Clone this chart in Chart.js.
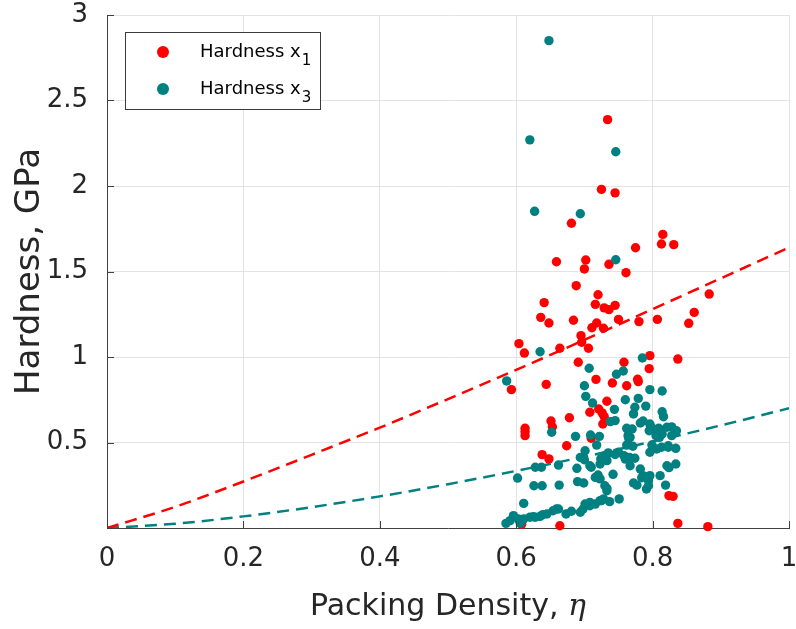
<!DOCTYPE html>
<html>
<head>
<meta charset="utf-8">
<script src="https://cdn.jsdelivr.net/npm/chart.js@4.4.1/dist/chart.umd.min.js"></script>
<style>
  html, body { margin: 0; padding: 0; background: #fff; }
  #wrap { width: 796px; height: 629px; }
</style>
</head>
<body>
<div id="wrap"><canvas id="hardnessChart" width="796" height="629"></canvas></div>
<script>
// Hardness x1 samples (packing density, GPa)
const x1Density = [0.734,0.725,0.745,0.681,0.815,0.813,0.831,0.775,0.659,0.702,0.700,0.736,0.761,0.688,0.883,0.720,0.641,0.716,0.729,0.736,0.745,0.636,0.648,0.684,0.750,0.780,0.807,0.861,0.853,0.711,0.718,0.728,0.695,0.696,0.706,0.604,0.612,0.664,0.796,0.837,0.795,0.758,0.691,0.717,0.741,0.762,0.778,0.779,0.593,0.644,0.733,0.708,0.721,0.726,0.729,0.727,0.678,0.651,0.653,0.613,0.613,0.613,0.710,0.674,0.638,0.648,0.824,0.830,0.608,0.664,0.837,0.881];
const x1Hardness = [2.388,1.98,1.96,1.782,1.717,1.661,1.657,1.639,1.557,1.567,1.515,1.542,1.493,1.417,1.368,1.364,1.318,1.308,1.287,1.277,1.302,1.232,1.199,1.215,1.220,1.207,1.220,1.261,1.197,1.171,1.199,1.168,1.125,1.086,1.051,1.078,1.023,1.051,1.008,0.988,0.932,0.969,0.969,0.869,0.848,0.832,0.870,0.856,0.809,0.840,0.741,0.677,0.696,0.673,0.651,0.608,0.645,0.626,0.591,0.583,0.563,0.540,0.525,0.481,0.429,0.404,0.189,0.185,0.022,0.013,0.027,0.008];

// Hardness x3 samples
const x3Density = [0.648,0.620,0.746,0.627,0.694,0.746,0.635,0.785,0.757,0.747,
  0.707,0.586,0.700,0.702,0.796,0.814,0.760,0.779,0.712,0.790,
  0.774,0.744,0.814,0.816,0.745,0.738,0.652,0.782,0.786,0.762,
  0.797,0.795,0.809,0.814,0.828,0.835,0.828,0.805,0.810,0.764,
  0.765,0.687,0.709,0.722,0.718,0.762,0.771,0.799,0.806,0.823,
  0.834,0.796,0.701,0.694,0.700,0.735,0.730,0.724,0.733,0.750,
  0.758,0.766,0.774,0.662,0.628,0.637,0.689,0.708,0.710,0.602,
  0.720,0.723,0.742,0.782,0.786,0.796,0.794,0.811,0.821,0.834,
  0.824,0.626,0.638,0.663,0.690,0.699,0.730,0.733,0.772,0.777,
  0.791,0.794,0.819,0.611,0.728,0.737,0.751,0.694,0.701,0.708,
  0.716,0.698,0.708,0.725,0.585,0.591,0.596,0.606,0.611,0.620,
  0.628,0.635,0.645,0.654,0.662,0.673,0.606,0.681,0.659,0.603,
  0.625,0.639,0.770,0.801,0.821,0.767,0.813,0.823,
  0.745,0.760,0.723,0.767,0.784,0.733,0.723,0.772,0.796,0.716];
const x3Hardness = [2.85,2.27,2.20,1.852,1.838,1.569,1.031,0.994,0.918,0.899,
  0.934,0.860,0.832,0.770,0.809,0.801,0.750,0.758,0.731,0.713,
  0.706,0.694,0.680,0.651,0.628,0.622,0.560,0.614,0.626,0.583,
  0.595,0.569,0.583,0.550,0.591,0.569,0.540,0.540,0.530,0.540,
  0.525,0.536,0.544,0.536,0.485,0.485,0.478,0.485,0.462,0.472,
  0.466,0.443,0.452,0.413,0.399,0.439,0.423,0.404,0.394,0.443,
  0.423,0.413,0.408,0.368,0.355,0.355,0.349,0.364,0.355,0.292,
  0.310,0.287,0.314,0.345,0.306,0.306,0.277,0.306,0.364,0.374,
  0.353,0.247,0.247,0.251,0.271,0.263,0.247,0.232,0.263,0.251,
  0.228,0.247,0.251,0.144,0.170,0.154,0.170,0.092,0.140,0.150,
  0.140,0.111,0.130,0.160,0.027,0.043,0.072,0.037,0.053,0.063,
  0.063,0.068,0.082,0.101,0.111,0.082,0.027,0.098,0.111,0.053,
  0.066,0.078,0.579,0.579,0.589,0.530,0.472,0.481,
  0.430,0.403,0.374,0.364,0.294,0.218,0.160,0.667,0.608,0.296];

// fitted trend curves, sampled along the density axis
const fitDensity = [0, 0.1, 0.2, 0.3, 0.4, 0.5, 0.6, 0.7, 0.8, 0.9, 1];
const fitX1 = [0, 0.124, 0.272, 0.428, 0.587, 0.754, 0.925, 1.10, 1.28, 1.46, 1.64];
const fitX3 = [0, 0.025, 0.068, 0.122, 0.185, 0.256, 0.334, 0.417, 0.506, 0.600, 0.70];

const xTicks = [0, 0.2, 0.4, 0.6, 0.8, 1];
const xTickLabels = ['0', '0.2', '0.4', '0.6', '0.8', '1'];
const yTicks = [0, 0.5, 1, 1.5, 2, 2.5, 3];
const yTickLabels = ['', '0.5', '1', '1.5', '2', '2.5', '3'];

const RED = '#ff0000';
const TEAL = '#008080';
const AXIS = '#404040';
const TEXT = '#262626';

const toPoints = (xs, ys) => xs.map((v, i) => ({ x: v, y: ys[i] }));

// inward tick marks, legend box and the x-axis label with an italic eta
const axisDecor = {
  id: 'axisDecor',
  afterDatasetsDraw(chart) {
    const { ctx, chartArea: a, scales: { x, y } } = chart;
    ctx.save();
    ctx.strokeStyle = AXIS;
    ctx.lineWidth = 1;
    ctx.beginPath();
    xTicks.forEach(v => {
      const px = Math.round(x.getPixelForValue(v)) + 0.5;
      ctx.moveTo(px, a.bottom);
      ctx.lineTo(px, a.bottom - 7);
    });
    yTicks.forEach(v => {
      const py = Math.round(y.getPixelForValue(v)) + 0.5;
      ctx.moveTo(a.left, py);
      ctx.lineTo(a.left + 7, py);
    });
    ctx.stroke();

    // legend
    ctx.fillStyle = '#fff';
    ctx.fillRect(125.5, 32.5, 195, 77);
    ctx.strokeStyle = '#3a3a3a';
    ctx.strokeRect(125.5, 32.5, 195, 77);
    const rows = [
      { color: RED, sub: '1', cy: 52 },
      { color: TEAL, sub: '3', cy: 89 }
    ];
    rows.forEach(r => {
      ctx.fillStyle = r.color;
      ctx.beginPath();
      ctx.arc(163, r.cy, 6, 0, Math.PI * 2);
      ctx.fill();
      ctx.fillStyle = '#000';
      ctx.textAlign = 'left';
      ctx.textBaseline = 'alphabetic';
      ctx.font = '18px "DejaVu Sans"';
      const label = 'Hardness x';
      ctx.fillText(label, 200, r.cy + 5);
      const w = ctx.measureText(label).width;
      ctx.font = '15px "DejaVu Sans"';
      ctx.fillText(r.sub, 200 + w + 1, r.cy + 13);
    });

    // x axis title
    const main = 'Packing Density, ';
    ctx.font = '30px "DejaVu Sans"';
    const w1 = ctx.measureText(main).width;
    ctx.font = 'italic 30px "DejaVu Serif"';
    const w2 = ctx.measureText('η').width;
    const cx = (a.left + a.right) / 2;
    const startX = cx - (w1 + w2) / 2;
    ctx.fillStyle = TEXT;
    ctx.textBaseline = 'alphabetic';
    ctx.font = '30px "DejaVu Sans"';
    ctx.fillText(main, startX, 615);
    ctx.font = 'italic 30px "DejaVu Serif"';
    ctx.fillText('η', startX + w1, 615);
    ctx.restore();
  }
};

const ctx = document.getElementById('hardnessChart').getContext('2d');
const chart = new Chart(ctx, {
  type: 'scatter',
  data: {
    datasets: [
      {
        label: 'Hardness x1 fit',
        type: 'line',
        data: toPoints(fitDensity, fitX1),
        borderColor: RED,
        borderWidth: 2.5,
        borderDash: [12, 7],
        pointRadius: 0,
        cubicInterpolationMode: 'monotone',
        fill: false,
        order: 0
      },
      {
        label: 'Hardness x3 fit',
        type: 'line',
        data: toPoints(fitDensity, fitX3),
        borderColor: TEAL,
        borderWidth: 2.5,
        borderDash: [12, 7],
        pointRadius: 0,
        cubicInterpolationMode: 'monotone',
        fill: false,
        order: 0
      },
      {
        label: 'Hardness x3',
        data: toPoints(x3Density, x3Hardness),
        backgroundColor: TEAL,
        borderWidth: 0,
        pointRadius: 4.7,
        clip: false,
        order: 1
      },
      {
        label: 'Hardness x1',
        data: toPoints(x1Density, x1Hardness),
        backgroundColor: RED,
        borderWidth: 0,
        pointRadius: 4.7,
        clip: false,
        order: 2
      }
    ]
  },
  options: {
    responsive: false,
    animation: false,
    layout: { padding: { top: 15, right: 7, left: 0, bottom: 0 } },
    plugins: {
      legend: { display: false },
      tooltip: { enabled: false }
    },
    scales: {
      x: {
        type: 'linear',
        min: 0,
        max: 1,
        afterBuildTicks: s => { s.ticks = xTicks.map(v => ({ value: v })); },
        afterFit: s => {
          s.height = 101;
          s.paddingLeft = 0;
          s.paddingRight = 0;
        },
        grid: { color: '#e3e3e3', drawTicks: false },
        border: { color: AXIS, width: 1 },
        ticks: {
          autoSkip: false,
          maxRotation: 0,
          padding: 16,
          color: TEXT,
          font: { family: 'DejaVu Sans', size: 26 },
          callback: (v, i) => xTickLabels[i]
        }
      },
      y: {
        type: 'linear',
        min: 0,
        max: 3,
        afterBuildTicks: s => { s.ticks = yTicks.map(v => ({ value: v })); },
        afterFit: s => {
          s.width = 107;
          s.paddingTop = 0;
          s.paddingBottom = 0;
        },
        grid: { color: '#e3e3e3', drawTicks: false },
        border: { color: AXIS, width: 1 },
        title: {
          display: true,
          text: 'Hardness, GPa',
          color: TEXT,
          font: { family: 'DejaVu Sans', size: 34 },
          padding: { top: 10, bottom: 0 }
        },
        ticks: {
          autoSkip: false,
          padding: 19,
          color: TEXT,
          font: { family: 'DejaVu Sans', size: 26 },
          callback: (v, i) => yTickLabels[i]
        }
      }
    }
  },
  plugins: [axisDecor]
});
</script>
</body>
</html>
